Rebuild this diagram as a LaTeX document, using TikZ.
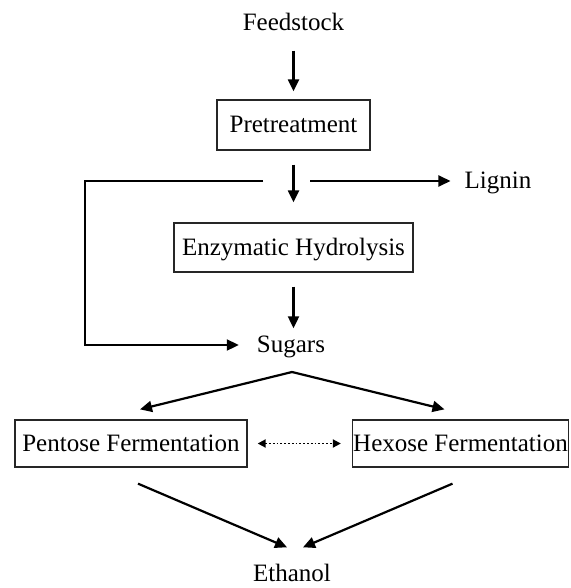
\documentclass[tikz,border=0pt]{standalone}
\usepackage{fontspec}
\setmainfont{Liberation Serif}
\usetikzlibrary{arrows.meta}
\begin{document}
\begin{tikzpicture}[x=1pt,y=-1pt,
  lbl/.style={inner sep=0pt,text height=17pt,text depth=2pt,font=\fontsize{25}{30}\selectfont},
  boxnode/.style={lbl,draw=black!85,line width=1.3pt,minimum width=#1},
  arr/.style={line width=2.2pt,-{Triangle[length=12pt,width=11pt]}},
  dotarr/.style={line width=1.8pt,dotted,{Triangle[length=8pt,width=8pt]}-{Triangle[length=8pt,width=8pt]}}]
\useasboundingbox (0,0) rectangle (570,588);
% nodes
\node[lbl] (feed) at (293.5,23) {Feedstock};
\node[boxnode=153pt,minimum height=50pt] (pre) at (293.5,125) {Pretreatment};
\node[boxnode=239pt,minimum height=49pt] (enz) at (293.5,247.5) {Enzymatic Hydrolysis};
\node[lbl] (sug) at (291,345) {Sugars};
\node[lbl] (lig) at (498,181) {Lignin};
\node[boxnode=232pt,minimum height=47pt] (pent) at (131,443.5) {Pentose Fermentation};
\node[boxnode=216pt,minimum height=47pt] (hex) at (460.5,443.5) {Hexose Fermentation};
\node[lbl] (eth) at (292,574) {Ethanol};
\coordinate (byp) at (263,181);
\coordinate (ligstart) at (310,181);
\coordinate (split) at (292,372);
% connectors
\draw[arr,shorten <=18pt,shorten >=8pt] (feed.south) -- (pre.north);
\draw[arr,shorten <=14pt,shorten >=20pt] (pre.south) -- (enz.north);
\draw[arr,shorten <=14pt,shorten >=7pt] (enz.south) -- (enz.south |- sug.north);
\draw[arr] (byp) -- (85,181) -- (85,345) -- ([xshift=-18pt]sug.west);
\draw[arr,shorten >=14pt] (ligstart) -- (ligstart -| lig.west);
\draw[arr] (split) -- ([xshift=9pt,yshift=10pt]pent.north);
\draw[arr] (split) -- ([xshift=-16pt,yshift=10pt]hex.north);
\draw[dotarr,shorten <=10pt,shorten >=11pt] (pent.east) -- (hex.west);
\draw[arr] ([xshift=7pt,yshift=-16pt]pent.south) -- ([xshift=-5pt,yshift=17pt]eth.north);
\draw[arr] ([xshift=-8pt,yshift=-16pt]hex.south) -- ([xshift=11pt,yshift=17pt]eth.north);
\end{tikzpicture}
\end{document}
